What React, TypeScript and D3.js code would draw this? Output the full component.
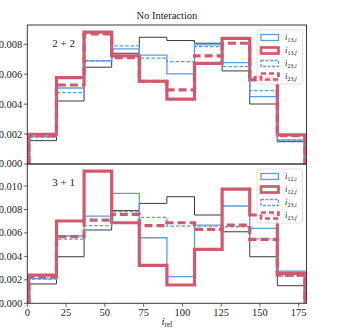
import React from "react";
import * as d3 from "d3";

const binEdges = [1, 18.8, 36.6, 54.4, 72.2, 90, 107.8, 125.6, 143.4, 161.2, 179];
const xTicks = [0, 25, 50, 75, 100, 125, 150, 175];

// Top panel (2+2)
const topBlack = [0.00156, 0.00421, 0.00647, 0.0074, 0.00847, 0.00825, 0.00807, 0.00622, 0.00401, 0.00149];
const top13i = [0.00183, 0.00508, 0.00689, 0.00769, 0.00727, 0.00602, 0.00796, 0.00678, 0.0045, 0.0016];
const top13f = [0.00199, 0.00577, 0.00881, 0.00722, 0.00553, 0.00433, 0.00673, 0.0084, 0.00562, 0.00194];
const top23i = [0.0018, 0.00477, 0.0069, 0.00789, 0.00707, 0.00684, 0.00785, 0.00651, 0.0049, 0.00161];
const top23f = [0.0019, 0.00528, 0.0087, 0.0071, 0.00553, 0.00495, 0.00722, 0.00807, 0.00577, 0.0019];
const topYTicks = [0, 0.002, 0.004, 0.006, 0.008];

// Bottom panel (3+1)
const botBlack = [0.00165, 0.00397, 0.00625, 0.0079, 0.00852, 0.00909, 0.00753, 0.0061, 0.00397, 0.0015];
const bot12i = [0.0021, 0.00574, 0.00744, 0.00938, 0.00559, 0.00227, 0.00667, 0.0083, 0.00639, 0.00275];
const bot12f = [0.00241, 0.00702, 0.01128, 0.00687, 0.00324, 0.00156, 0.0046, 0.00974, 0.00753, 0.00256];
const bot23i = [0.00207, 0.00548, 0.00662, 0.00781, 0.00733, 0.00659, 0.00659, 0.00653, 0.0055, 0.00233];
const bot23f = [0.00227, 0.00568, 0.0071, 0.00759, 0.00662, 0.00687, 0.00631, 0.00667, 0.00546, 0.0024];
const botYTicks = [0, 0.002, 0.004, 0.006, 0.008, 0.01];

const topLabels = ["13,i", "13,f", "23,i", "23,f"];
const botLabels = ["12,i", "12,f", "23,i", "23,f"];

const BLUE = "#5f9bd8";
const RED = "#cf5a6e";
const DARK = "#3a3a3a";
const FONT = "'Liberation Serif', 'DejaVu Serif', serif";

const L = 27.3, R = 306.5;
const x = d3.scaleLinear().domain([0, 180]).range([L, R]);

type Style = { color: string; width: number; dash?: string };
const styles: Style[] = [
  { color: BLUE, width: 1.3 },
  { color: RED, width: 3.2 },
  { color: BLUE, width: 1.3, dash: "3.5,2" },
  { color: RED, width: 3.2, dash: "8,4" },
];

function stepPath(vals: number[], y: d3.ScaleLinear<number, number>) {
  const pts: [number, number][] = [[x(binEdges[0]), y(0)]];
  vals.forEach((v, i) => {
    pts.push([x(binEdges[i]), y(v)]);
    pts.push([x(binEdges[i + 1]), y(v)]);
  });
  pts.push([x(binEdges[binEdges.length - 1]), y(0)]);
  return d3.line()(pts) as string;
}

function Panel(props: {
  id: string;
  top: number;
  bottom: number;
  ymax: number;
  ticks: number[];
  black: number[];
  series: number[][];
  labels: string[];
  annot: string;
  showX: boolean;
  legendTop: number;
}) {
  const { id, top, bottom, ymax, ticks, black, series, labels, annot, showX, legendTop } = props;
  const y = d3.scaleLinear().domain([0, ymax]).range([bottom, top]);
  const fmt = d3.format(".3f");
  return (
    <g>
      <defs>
        <clipPath id={id}>
          <rect x={L} y={top} width={R - L} height={bottom - top} />
        </clipPath>
      </defs>
      <g clipPath={`url(#${id})`}>
        <path d={stepPath(black, y)} fill="none" stroke={DARK} strokeWidth={1} />
        {series.map((s, i) => (
          <path
            key={i}
            d={stepPath(s, y)}
            fill="none"
            stroke={styles[i].color}
            strokeWidth={styles[i].width}
            strokeDasharray={styles[i].dash}
            strokeLinejoin="miter"
          />
        ))}
      </g>
      <rect x={L} y={top} width={R - L} height={bottom - top} fill="none" stroke={DARK} strokeWidth={1} />
      {ticks.map((t) => (
        <g key={t}>
          <line x1={L - 3.5} x2={L} y1={y(t)} y2={y(t)} stroke={DARK} strokeWidth={0.8} />
          <text x={L - 5} y={y(t)} dy="0.33em" textAnchor="end" fontSize={10.5} fontFamily={FONT} fill="#222">
            {fmt(t)}
          </text>
        </g>
      ))}
      {showX &&
        xTicks.map((t) => (
          <g key={t}>
            <line x1={x(t)} x2={x(t)} y1={bottom} y2={bottom + 3.5} stroke={DARK} strokeWidth={0.8} />
            <text x={x(t)} y={bottom + 13} textAnchor="middle" fontSize={10.5} fontFamily={FONT} fill="#222">
              {t}
            </text>
          </g>
        ))}
      <text x={L + 25} y={top + 22} fontSize={11} fontFamily={FONT} fill="#222">
        {annot}
      </text>
      <g>
        <rect x={257} y={legendTop} width={45.5} height={54} rx={2} fill="white" fillOpacity={0.85} stroke="#d8d8d8" strokeWidth={0.8} />
        {labels.map((lab, i) => {
          const cy = legendTop + 7.5 + i * 13;
          const st = styles[i];
          return (
            <g key={lab}>
              <rect
                x={261}
                y={cy - 3}
                width={17.5}
                height={6}
                fill="none"
                stroke={st.color}
                strokeWidth={st.width * (i % 2 === 1 ? 0.85 : 1)}
                strokeDasharray={st.dash ? (i === 3 ? "5,3" : "3,1.5") : undefined}
              />
              <text x={285} y={cy + 2} fontSize={8.5} fontFamily={FONT} fontStyle="italic" fill="#222">
                i
                <tspan fontSize={6} dy={2} fontStyle="normal">
                  {lab.split(",")[0] + ","}
                </tspan>
                <tspan fontSize={6} fontStyle="italic">
                  {lab.split(",")[1]}
                </tspan>
              </text>
            </g>
          );
        })}
      </g>
    </g>
  );
}

export default function App() {
  return (
    <svg
      width={343}
      height={334}
      style={{ position: "absolute", left: 0, top: 0, background: "white" }}
    >
      <rect width={343} height={334} fill="white" />
      <text x={(L + R) / 2} y={19} textAnchor="middle" fontSize={10.5} fontFamily={FONT} fill="#222">
        No Interaction
      </text>
      <Panel
        id="c1"
        top={25}
        bottom={164}
        ymax={0.00929}
        ticks={topYTicks}
        black={topBlack}
        series={[top13i, top13f, top23i, top23f]}
        labels={topLabels}
        annot="2 + 2"
        showX={false}
        legendTop={30}
      />
      <Panel
        id="c2"
        top={164}
        bottom={303.3}
        ymax={0.01188}
        ticks={botYTicks}
        black={botBlack}
        series={[bot12i, bot12f, bot23i, bot23f]}
        labels={botLabels}
        annot="3 + 1"
        showX={true}
        legendTop={169}
      />
      <text x={(L + R) / 2} y={325} textAnchor="middle" fontSize={11} fontFamily={FONT} fontStyle="italic" fill="#222">
        i
        <tspan fontSize={7.5} dy={2} fontStyle="normal">rel</tspan>
      </text>
    </svg>
  );
}
